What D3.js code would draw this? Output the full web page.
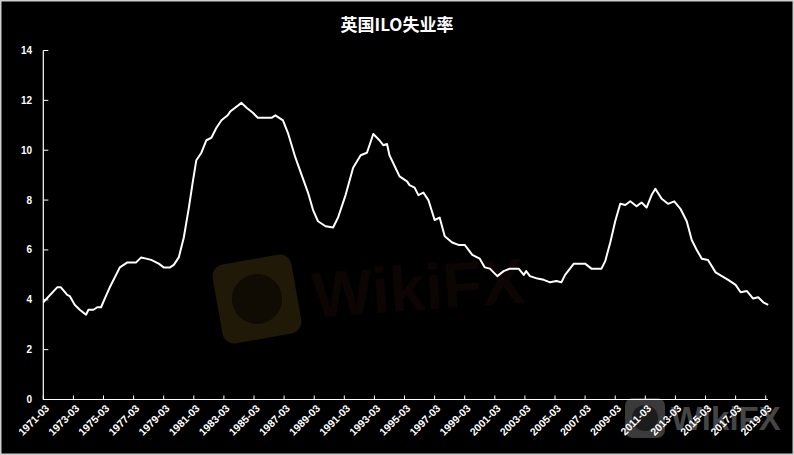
<!DOCTYPE html>
<html>
<head>
<meta charset="utf-8">
<script src="https://cdn.jsdelivr.net/npm/d3@7"></script>
<style>
  html, body { margin: 0; padding: 0; background: #000; }
  svg { display: block; }
</style>
</head>
<body>
<div id="chart"></div>
<script>
const width = 794
const height = 455

// UK ILO unemployment rate (%)
const months = [
  "1971-03","1972-02","1972-05","1972-10","1972-12","1973-04","1973-08","1974-01","1974-03","1974-07",
  "1974-10","1975-01","1975-04","1975-08","1976-04","1976-10","1977-05","1977-09","1978-01","1978-05",
  "1978-11","1979-03","1979-08","1979-11","1980-03","1980-07","1980-11","1981-02","1981-05","1981-09",
  "1982-01","1982-05","1982-09","1983-01","1983-06","1983-08","1984-05","1984-09","1985-02","1985-06",
  "1986-05","1986-08","1987-02","1987-06","1987-12","1988-05","1988-10","1989-02","1989-06","1989-12",
  "1990-06","1990-10","1991-04","1991-10","1992-04","1992-09","1993-02","1993-07","1993-10","1994-01",
  "1994-03","1994-11","1995-05","1995-07","1995-11","1996-02","1996-06","1996-10","1997-03","1997-07",
  "1997-11","1998-05","1998-10","1999-03","1999-09","2000-03","2000-07","2000-11","2001-05","2001-10",
  "2002-03","2002-10","2003-02","2003-04","2003-07","2004-01","2004-06","2004-11","2005-04","2005-08",
  "2005-11","2006-06","2006-11","2007-03","2007-08","2008-04","2008-07","2008-11","2009-03","2009-07",
  "2009-11","2010-03","2010-08","2010-12","2011-04","2011-08","2011-11","2012-04","2012-09","2013-02",
  "2013-07","2013-12","2014-04","2014-08","2014-12","2015-05","2015-11","2016-04","2016-09","2017-03",
  "2017-07","2017-12","2018-05","2018-09","2019-01","2019-05"
]
const rates = [
  3.9, 4.5, 4.5, 4.2, 4.15, 3.8, 3.6, 3.4, 3.6, 3.6,
  3.7, 3.7, 4.05, 4.5, 5.3, 5.5, 5.5, 5.7, 5.65, 5.6,
  5.45, 5.3, 5.3, 5.4, 5.7, 6.5, 7.7, 8.7, 9.6, 9.9,
  10.4, 10.5, 10.9, 11.2, 11.4, 11.55, 11.9, 11.7, 11.5, 11.3,
  11.3, 11.4, 11.2, 10.7, 9.7, 9.0, 8.3, 7.6, 7.15, 6.95,
  6.9, 7.3, 8.2, 9.3, 9.8, 9.9, 10.65, 10.4, 10.2, 10.25,
  9.8, 8.95, 8.75, 8.6, 8.5, 8.2, 8.3, 8.0, 7.2, 7.3,
  6.55, 6.3, 6.2, 6.2, 5.8, 5.65, 5.3, 5.25, 4.95, 5.15,
  5.25, 5.25, 5.0, 5.15, 4.95, 4.85, 4.8, 4.7, 4.75, 4.7,
  5.0, 5.45, 5.45, 5.45, 5.25, 5.25, 5.55, 6.3, 7.15, 7.85,
  7.8, 7.95, 7.75, 7.9, 7.7, 8.2, 8.45, 8.05, 7.85, 7.95,
  7.65, 7.15, 6.4, 6.0, 5.65, 5.6, 5.1, 4.95, 4.8, 4.6,
  4.3, 4.35, 4.05, 4.1, 3.9, 3.8
]
const yTicks = [0, 2, 4, 6, 8, 10, 12, 14]
const xTickYears = d3.range(1971, 2020, 2)

const parseMonth = d3.timeParse("%Y-%m")
const data = months.map((m, i) => ({ date: parseMonth(m), value: rates[i] }))

const x0 = 43.3, x1 = 765.7, xEnd = 768
const y0 = 399.5, y1 = 50.5

const x = d3.scaleTime()
  .domain([parseMonth("1971-03"), parseMonth("2019-03")])
  .range([x0, x1])
const y = d3.scaleLinear().domain([0, 14]).range([y0, y1])

const svg = d3.select("#chart").append("svg")
  .attr("width", width)
  .attr("height", height)

svg.append("rect")
  .attr("width", width).attr("height", height)
  .attr("fill", "#000")

// watermarks (drawn first so the chart sits on top)
const wm = svg.append("g").attr("transform", "rotate(-10 257 299)")
wm.append("rect")
  .attr("x", 217).attr("y", 259).attr("width", 80).attr("height", 80).attr("rx", 12)
  .attr("fill", "#211907")
wm.append("circle").attr("cx", 257).attr("cy", 299).attr("r", 25).attr("fill", "#100b03")
svg.append("text")
  .attr("x", 312).attr("y", 310)
  .attr("font-family", "Liberation Sans, Arial, sans-serif")
  .attr("font-weight", "bold").attr("font-size", 64)
  .attr("fill", "#0d0404")
  .attr("transform", "rotate(-4 420 290)")
  .text("WikiFX")

svg.append("rect")
  .attr("x", 625).attr("y", 398).attr("width", 40).attr("height", 40).attr("rx", 8)
  .attr("fill", "#3a3a3a")
svg.append("circle").attr("cx", 645).attr("cy", 418).attr("r", 13).attr("fill", "#1c1c1c")
svg.append("text")
  .attr("x", 671).attr("y", 430)
  .attr("font-family", "Liberation Sans, Arial, sans-serif")
  .attr("font-weight", "bold").attr("font-size", 33)
  .attr("fill", "#454545")
  .text("WikiFX")

// title
svg.append("text")
  .attr("x", 397).attr("y", 31)
  .attr("text-anchor", "middle")
  .attr("font-family", "Noto Sans CJK SC, sans-serif")
  .attr("font-weight", "bold")
  .attr("font-size", 17)
  .attr("fill", "#fff")
  .text("英国ILO失业率")

const labelFont = "Liberation Sans, Arial, sans-serif"

// y axis
const yAxis = svg.append("g")
yAxis.append("line")
  .attr("x1", x0).attr("x2", x0).attr("y1", y1).attr("y2", y0)
  .attr("stroke", "#fff").attr("stroke-width", 1.2)
yAxis.selectAll(".ytick")
  .data(yTicks)
  .enter().append("line")
  .attr("x1", x0).attr("x2", x0 + 5)
  .attr("y1", d => y(d)).attr("y2", d => y(d))
  .attr("stroke", "#fff").attr("stroke-width", 1)
yAxis.selectAll(".ylabel")
  .data(yTicks)
  .enter().append("text")
  .attr("x", 32).attr("y", d => y(d))
  .attr("dy", "0.35em")
  .attr("text-anchor", "end")
  .attr("font-family", labelFont)
  .attr("font-weight", "bold")
  .attr("font-size", 10)
  .attr("fill", "#fff")
  .text(d => d)

// x axis
const xTicks = xTickYears.map(yr => new Date(yr, 2, 1))
const xAxis = svg.append("g")
xAxis.append("line")
  .attr("x1", x0).attr("x2", xEnd).attr("y1", y0).attr("y2", y0)
  .attr("stroke", "#fff").attr("stroke-width", 1.2)
xAxis.selectAll(".xtick")
  .data(xTicks)
  .enter().append("line")
  .attr("x1", d => x(d)).attr("x2", d => x(d))
  .attr("y1", y0).attr("y2", y0 - 4)
  .attr("stroke", "#fff").attr("stroke-width", 1)
xAxis.selectAll(".xlabel")
  .data(xTicks)
  .enter().append("text")
  .attr("transform", d => `translate(${x(d) + 4},${y0 + 7}) rotate(-45)`)
  .attr("dy", "0.35em")
  .attr("text-anchor", "end")
  .attr("font-family", labelFont)
  .attr("font-weight", "bold")
  .attr("font-size", 10.5)
  .attr("fill", "#fff")
  .text(d3.timeFormat("%Y-%m"))

// the series
const line = d3.line()
  .x(d => x(d.date))
  .y(d => y(d.value))

svg.append("path")
  .datum(data)
  .attr("d", line)
  .attr("fill", "none")
  .attr("stroke", "#fff")
  .attr("stroke-width", 2)
  .attr("stroke-linejoin", "round")

// frame
svg.append("rect")
  .attr("x", 0.75).attr("y", 0.75)
  .attr("width", width - 1.5).attr("height", height - 1.5)
  .attr("fill", "none")
  .attr("stroke", "#cfcfcf").attr("stroke-width", 1.5)
</script>
</body>
</html>
